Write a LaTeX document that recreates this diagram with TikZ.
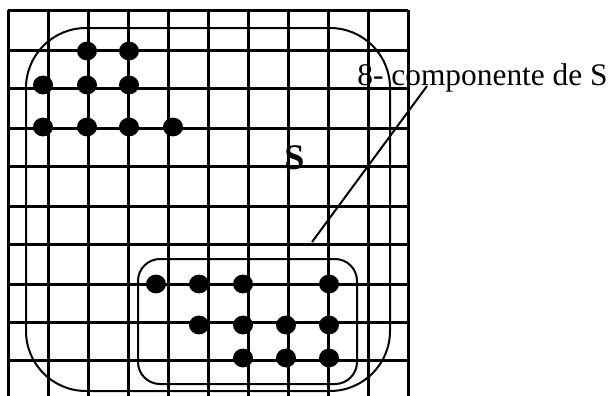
\documentclass[tikz,border=0pt]{standalone}
\usepackage{fontspec}
\setmainfont{Liberation Serif}
\usetikzlibrary{positioning}

\begin{document}
\begin{tikzpicture}[x=0.5pt, y=-0.5pt,
    gridline/.style={line width=1.5pt},
    region/.style={line width=1pt},
    pixel/.style={fill=black}]
  \useasboundingbox (0,0) rectangle (616,396);
  % grid
  \foreach \x in {8,48,...,408}
    \draw[gridline] (\x,10) -- (\x,396);
  \foreach \y in {10,50,88,128,166,206,244,284,322,360}
    \draw[gridline] (8,\y) -- (408,\y);
  % the set S and its 8-component
  \draw[region, rounded corners=30pt] (26,28) rectangle (390,391);
  \draw[region, rounded corners=11pt] (138,259) rectangle (357,384);
  \foreach \x/\y in {87/51, 129/51, 43/85, 87/85, 129/85,
                     43/127, 87/127, 129/127, 173/127}
    \fill[pixel] (\x,\y) circle[x radius=5pt, y radius=4.7pt];
  \foreach \x/\y in {156/284, 199/284, 243/284, 329/284,
                     199/325, 243/325, 286/325, 329/325,
                     243/358, 286/358, 329/358}
    \fill[pixel] (\x,\y) circle[x radius=5pt, y radius=4.7pt];
  \node[anchor=base west, inner sep=0pt, font=\fontsize{18}{20}\selectfont\bfseries]
    (setS) at (284,169) {S};
  \node[anchor=base west, inner sep=0pt, font=\fontsize{15.7}{18}\selectfont]
    (lbl) at (357,85) {8- componente de S};
  \coordinate (lblfoot) at (427,86);
  \coordinate (comp) at (312,242);
  \draw[line width=1pt] (lblfoot) -- (comp);
\end{tikzpicture}
\end{document}
